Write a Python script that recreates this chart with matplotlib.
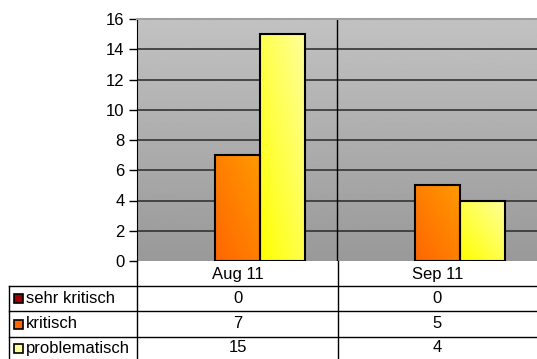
import numpy as np
import matplotlib
matplotlib.use("Agg")
import matplotlib.pyplot as plt
from matplotlib.colors import LinearSegmentedColormap
from matplotlib.patches import Rectangle

categories = ["Aug 11", "Sep 11"]
series_names = ["sehr kritisch", "kritisch", "problematisch"]
sehr_kritisch = [0, 0]
kritisch = [7, 5]
problematisch = [15, 4]
y_ticks = [0, 2, 4, 6, 8, 10, 12, 14, 16]

series_values = [sehr_kritisch, kritisch, problematisch]
# (top-left colour, bottom-right colour) for the diagonal gradient fills
gradients = [("#990000", "#CC0000"), ("#FF6600", "#FF9900"), ("#FFFF00", "#FFFF99")]

plt.rcParams["font.family"] = ["Liberation Sans", "DejaVu Sans"]
plt.rcParams["font.size"] = 12

W, H = 537, 359
fig = plt.figure(figsize=(W / 100, H / 100), dpi=100)


def fx(px):
    return px / W


def fy(py):
    return 1 - py / H


left, right, top, bottom = 137, 537, 19, 261
ax = fig.add_axes([fx(left), fy(bottom), fx(right - left), fy(top) - fy(bottom)])
ax.set_xlim(-0.5, len(categories) - 0.5)
ax.set_ylim(0, 16)

# gray backdrop, lighter at the top
bg = np.linspace(0.6, 0.76, 256).reshape(-1, 1)
ax.imshow(bg, extent=(0, 1, 0, 1), transform=ax.transAxes, cmap="gray",
          vmin=0, vmax=1, aspect="auto", origin="lower", zorder=0)

for t in y_ticks[1:]:
    ax.axhline(t, color="#333333", lw=1.2, zorder=1)
ax.axvline(0.5, color="black", lw=1.0, zorder=1)

bar_w = 0.225
x = np.arange(len(categories))
yy, xx = np.mgrid[0:1:64j, 0:1:64j]
diag = (xx + (1 - yy)) / 2  # 0 at top-left, 1 at bottom-right
for i, (vals, (c0, c1)) in enumerate(zip(series_values, gradients)):
    cmap = LinearSegmentedColormap.from_list(f"g{i}", [c0, c1])
    for xi, v in zip(x, vals):
        if v <= 0:
            continue
        x0 = xi + (i - 1) * bar_w - bar_w / 2
        rect = Rectangle((x0, 0), bar_w, v, facecolor="none",
                         edgecolor="black", lw=1.5, zorder=3)
        ax.add_patch(rect)
        im = ax.imshow(diag, extent=(x0, x0 + bar_w, 0, v), cmap=cmap,
                       vmin=0, vmax=1, aspect="auto", origin="upper", zorder=2)
        im.set_clip_path(rect)

ax.set_aspect("auto")
ax.set_yticks(y_ticks)
ax.set_xticks([])
ax.tick_params(axis="y", direction="out", length=6, width=1, pad=3)
for s in ["right", "bottom"]:
    ax.spines[s].set_visible(False)
ax.spines["top"].set_color("#A0A0A0")
ax.spines["top"].set_linewidth(1.5)
ax.spines["left"].set_color("black")

# data table below the plot
row_y = [261, 286, 311, 337, 359]
col_x = [9, 137, 338, 537]
line_kw = dict(color="black", lw=1.0, transform=fig.transFigure)
for py in row_y[1:4]:
    fig.add_artist(plt.Line2D([fx(9), fx(537)], [fy(py), fy(py)], **line_kw))
fig.add_artist(plt.Line2D([fx(9), fx(9)], [fy(286), fy(359)], **line_kw))
fig.add_artist(plt.Line2D([fx(137), fx(137)], [fy(261), fy(359)], **line_kw))
fig.add_artist(plt.Line2D([fx(338), fx(338)], [fy(261), fy(359)], **line_kw))

centers = [(col_x[1] + col_x[2]) / 2, (col_x[2] + col_x[3]) / 2]
for cx, cat in zip(centers, categories):
    fig.text(fx(cx), fy((row_y[0] + row_y[1]) / 2 + 1), cat, ha="center", va="center")

for r, (name, vals, (c0, c1)) in enumerate(zip(series_names, series_values, gradients)):
    cy = (row_y[r + 1] + row_y[r + 2]) / 2
    fig.add_artist(Rectangle((fx(14), fy(cy + 4.5)), fx(9), fy(cy - 4.5) - fy(cy + 4.5),
                             facecolor=c1 if r == 2 else c0, edgecolor="black",
                             lw=1.2, transform=fig.transFigure))
    fig.text(fx(26), fy(cy), name, ha="left", va="center")
    for cx, v in zip(centers, vals):
        fig.text(fx(cx), fy(cy), str(v), ha="center", va="center")

fig.savefig("out.png", dpi=100, facecolor="white")
